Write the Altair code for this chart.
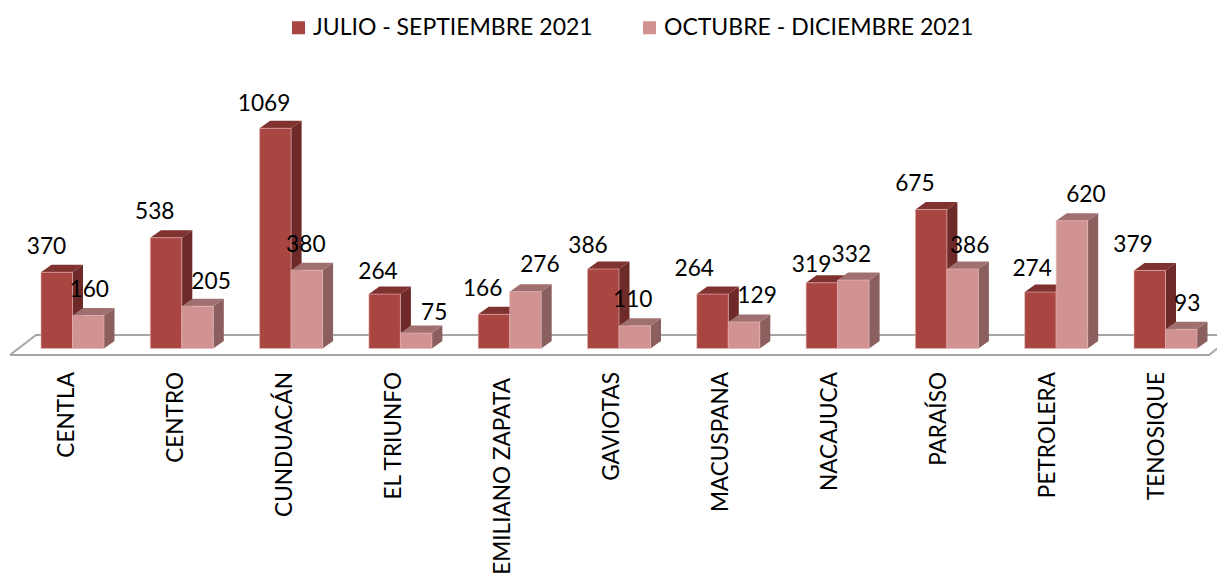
import altair as alt
import pandas as pd

categories = ["CENTLA", "CENTRO", "CUNDUACÁN", "EL TRIUNFO", "EMILIANO ZAPATA", "GAVIOTAS",
              "MACUSPANA", "NACAJUCA", "PARAÍSO", "PETROLERA", "TENOSIQUE"]
julio = [370, 538, 1069, 264, 166, 386, 264, 319, 675, 274, 379]
octubre = [160, 205, 380, 75, 276, 110, 129, 332, 386, 620, 93]
series_names = ["JULIO - SEPTIEMBRE 2021", "OCTUBRE - DICIEMBRE 2021"]

# ---- layout (pixels on the page) ----
W, H = 1209, 568
PAGE = 8
STEP = 109.3
FIRST = 41
BASE = 348.5
PX_PER_UNIT = 0.206
BAR = 31.5 / STEP
DX = 10.5 / STEP
DY = 7.5 / PX_PER_UNIT
FONT = "Lato"

x_scale = alt.Scale(domain=[(PAGE - FIRST) / STEP, (PAGE + W - FIRST) / STEP], range=[0, W], nice=False, zero=False)
y_scale = alt.Scale(domain=[(BASE - PAGE - H) / PX_PER_UNIT, (BASE - PAGE) / PX_PER_UNIT], range=[H, 0], nice=False, zero=False)

# the original's hand-placed data labels: sideways shift and height above the bar top, px
shift_a = [0, -1, -1, 3.6, -1, -5, -8, 0, -6, 2, -6.5]
lift_a = [25.5, 25.5, 24.5, 22.5, 25.5, 22.5, 25.5, 17.5, 25, 23.5, 25.5]
shift_b = [1, 13.5, -1, 18, 14.5, -2, 13, -2, 7, 14, 6]
lift_b = [26, 24.5, 25.5, 20.5, 26.5, 25.5, 25.5, 25.5, 22.5, 25.5, 25.5]
# the long category label sits a little lower than the others, px
cat_drop = [0, 0, 0, 0, 6, 0, 0, 0, 0, 0, 0]

rows, sides, tops, labels = [], [], [], []
for s, (vals, shifts, lifts) in enumerate(((julio, shift_a, lift_a), (octubre, shift_b, lift_b))):
    for g, v in enumerate(vals):
        x0 = g + s * BAR
        x1 = x0 + BAR
        key = f"{s}-{g}"
        rows.append({"x": x0, "x2": x1, "v": v, "zero": 0, "serie": series_names[s], "s": s})
        sides += [
            {"x": x1, "y": 0, "y2": v, "k": key, "s": s},
            {"x": x1 + DX, "y": DY, "y2": v + DY, "k": key, "s": s},
        ]
        tops += [
            {"x": x0, "y": v, "y2": v, "k": key, "s": s},
            {"x": x0 + DX, "y": v + DY, "y2": v, "k": key, "s": s},
            {"x": x1, "y": v + DY, "y2": v, "k": key, "s": s},
            {"x": x1 + DX, "y": v + DY, "y2": v + DY, "k": key, "s": s},
        ]
        cx = x0 + (BAR / 2 if s else 0.05) + shifts[g] / STEP
        labels.append({"x": cx, "y": v + lifts[g] / PX_PER_UNIT, "t": str(v)})

bars_df = pd.DataFrame(rows)
sides_df = pd.DataFrame(sides)
tops_df = pd.DataFrame(tops)
labels_df = pd.DataFrame(labels)
cats_df = pd.DataFrame({
    "x": [i * 109.0 / STEP + 25.7 / STEP for i in range(11)],
    "y": [(BASE - 372 - d) / PX_PER_UNIT for d in cat_drop],
    "t": categories,
})
floor_df = pd.DataFrame({
    "x": [-0.284, 10.686, 10.924, -0.046, -0.284],
    "y": [-31.6, -31.6, 65.5, 65.5, -31.6],
    "o": [0, 1, 2, 3, 4],
})

X = alt.X("x:Q", scale=x_scale, axis=None)
Y = alt.Y("y:Q", scale=y_scale, axis=None)

floor = alt.Chart(floor_df).mark_line(color="#a6a6a6", strokeWidth=2, clip=True).encode(x=X, y=Y, order="o:Q")

colors = [("#a94642", "#6e2a28", "#7f322f"), ("#d09392", "#8a5f5e", "#a07070")]
layers = [floor]
for s in (0, 1):
    front, side, top = colors[s]
    layers.append(alt.Chart(sides_df[sides_df.s == s]).mark_area(color=side).encode(x=X, y=Y, y2="y2:Q", detail="k:N"))
    layers.append(alt.Chart(tops_df[tops_df.s == s]).mark_area(color=top).encode(x=X, y=Y, y2="y2:Q", detail="k:N"))
    layers.append(
        alt.Chart(bars_df[bars_df.s == s]).mark_bar(stroke="#e6b9b7", strokeWidth=0.6).encode(
            x=X,
            x2="x2:Q",
            y=alt.Y("v:Q", scale=y_scale, axis=None),
            y2="zero:Q",
            color=alt.Color(
                "serie:N",
                scale=alt.Scale(domain=series_names, range=[colors[0][0], colors[1][0]]),
                legend=alt.Legend(
                    title=None, orient="none", legendX=279, legendY=8, direction="horizontal", columns=2,
                    symbolType="square", symbolSize=170, symbolStrokeWidth=0, labelFont=FONT, labelFontSize=23,
                    labelColor="#000000", labelLimit=0, columnPadding=45, labelOffset=3,
                ),
            ),
        )
    )

layers.append(
    alt.Chart(labels_df).mark_text(font=FONT, fontSize=22.7, color="#000000", baseline="middle", align="center").encode(x=X, y=Y, text="t:N")
)
layers.append(
    alt.Chart(cats_df).mark_text(font=FONT, fontSize=22.6, color="#000000", angle=270, align="right", baseline="middle").encode(x=X, y=Y, text="t:N")
)

chart = alt.layer(*layers).properties(
    width=W, height=H, padding=0, autosize=alt.AutoSizeParams(type="none"), background="#ffffff"
).configure_view(stroke=None)

chart.save("out.html", embed_options={"renderer": "svg", "actions": False})
